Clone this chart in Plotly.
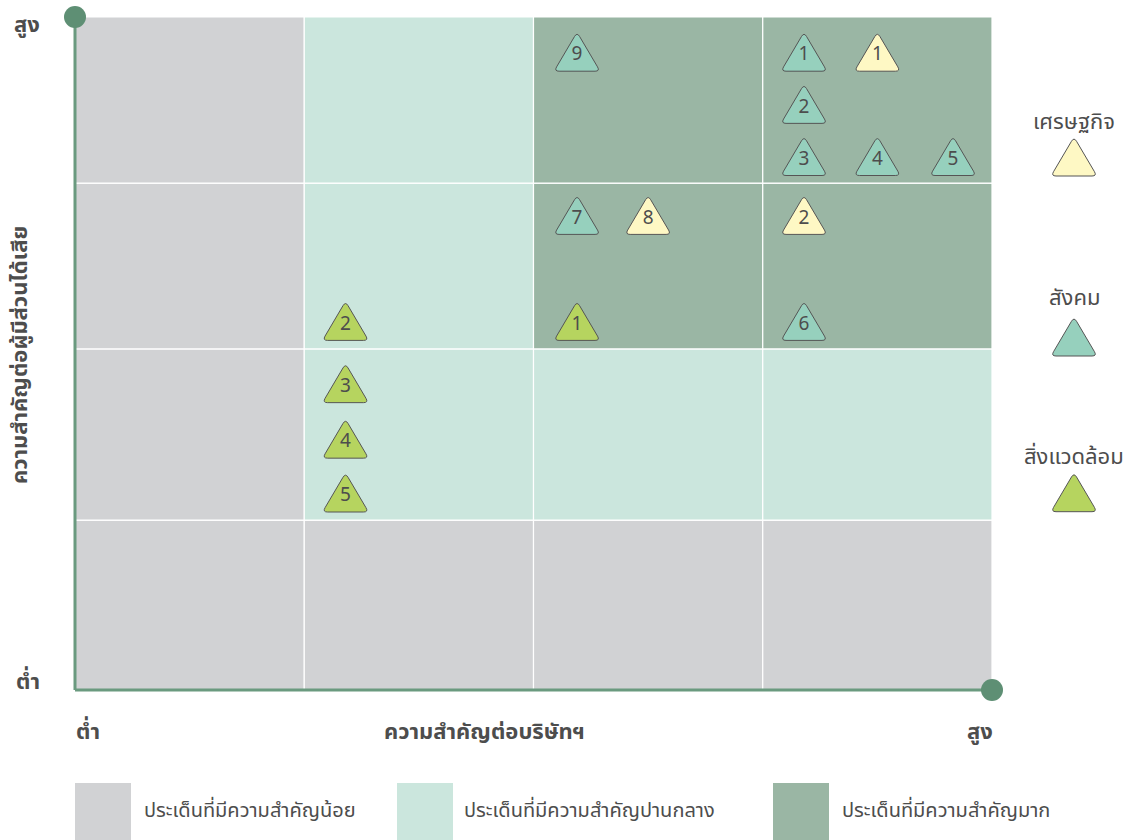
import math
import plotly.graph_objects as go

# ---------------- data ----------------
# importance to company (x) and to stakeholders (y), scale 0-4
econ_labels = ["1", "8", "2"]
econ_x = [3.50, 2.50, 3.18]
econ_y = [3.77, 2.80, 2.80]

social_labels = ["9", "1", "2", "3", "4", "5", "7", "6"]
social_x = [2.19, 3.18, 3.18, 3.18, 3.50, 3.83, 2.19, 3.18]
social_y = [3.77, 3.77, 3.46, 3.15, 3.15, 3.15, 2.80, 2.17]

env_labels = ["1", "2", "3", "4", "5"]
env_x = [2.19, 1.18, 1.18, 1.18, 1.18]
env_y = [2.17, 2.17, 1.80, 1.47, 1.15]

category_names = ["เศรษฐกิจ", "สังคม", "สิ่งแวดล้อม"]
zone_names = ["ประเด็นที่มีความสำคัญน้อย", "ประเด็นที่มีความสำคัญปานกลาง", "ประเด็นที่มีความสำคัญมาก"]
# zone of each cell: rows from bottom to top, columns left to right (0 low, 1 mid, 2 high)
zone_grid = [
    [0, 0, 0, 0],
    [0, 1, 1, 1],
    [0, 1, 2, 2],
    [0, 1, 2, 2],
]
axis_x_title = "ความสำคัญต่อบริษัทฯ"
axis_y_title = "ความสำคัญต่อผู้มีส่วนได้เสีย"
low_label = "ต่ำ"
high_label = "สูง"

# ---------------- style ----------------
W, H = 1130, 840
ML, MR, MT, MB = 75, 138, 17, 150
PW, PH = W - ML - MR, H - MT - MB
FONT = "Noto Sans Thai, Noto Sans, sans-serif"
TXT = "#4d4d4d"
zone_colors = ["#d1d2d4", "#cbe6dd", "#9ab6a4"]
cat_colors = ["#fef8c4", "#96d0bd", "#b6d45f"]
AXIS_COL = "#6a9a7f"
DOT_COL = "#5e8f74"
COL_EDGES = [0, 1, 2, 3, 4]
ROW_EDGES = [0, 1.01, 2.027, 3.013, 4]


def px2paper_x(px):
    return (px - ML) / PW


def px2paper_y(py):
    return (H - MB - py) / PH


def tri_path(w=46.0, top=23.5, bot=-15.5, r=5.0):
    verts = [(-w / 2, bot), (w / 2, bot), (0.0, top)]
    n = len(verts)
    parts = []
    for i in range(n):
        vx, vy = verts[i]
        px_, py_ = verts[i - 1]
        nx_, ny_ = verts[(i + 1) % n]
        d1 = math.hypot(px_ - vx, py_ - vy)
        d2 = math.hypot(nx_ - vx, ny_ - vy)
        a = (vx + (px_ - vx) * r / d1, vy + (py_ - vy) * r / d1)
        b = (vx + (nx_ - vx) * r / d2, vy + (ny_ - vy) * r / d2)
        cmd = "M" if i == 0 else "L"
        parts.append(f"{cmd}{a[0]:.2f},{a[1]:.2f} Q{vx:.2f},{vy:.2f} {b[0]:.2f},{b[1]:.2f}")
    return " ".join(parts) + " Z"


TRI = tri_path()

fig = go.Figure()
shapes = []

# grid cells
for ri in range(4):
    for ci in range(4):
        shapes.append(dict(
            type="rect", xref="x", yref="y",
            x0=COL_EDGES[ci], x1=COL_EDGES[ci + 1],
            y0=ROW_EDGES[ri], y1=ROW_EDGES[ri + 1],
            fillcolor=zone_colors[zone_grid[ri][ci]],
            line=dict(color="white", width=1.2), layer="below",
        ))

# triangles (below the number labels)
series = [
    (econ_labels, econ_x, econ_y, cat_colors[0]),
    (social_labels, social_x, social_y, cat_colors[1]),
    (env_labels, env_x, env_y, cat_colors[2]),
]
for labels, xs, ys, col in series:
    for x, y in zip(xs, ys):
        shapes.append(dict(type="path", xref="x", yref="y",
                           xsizemode="pixel", ysizemode="pixel",
                           xanchor=x, yanchor=y, path=TRI, layer="below",
                           fillcolor=col, line=dict(color="#555555", width=1)))
    fig.add_trace(go.Scatter(
        x=xs, y=ys, text=labels, mode="text",
        textfont=dict(family=FONT, size=19, color=TXT),
        textposition="middle center", cliponaxis=False,
        hoverinfo="skip", showlegend=False,
    ))

# axes lines and end dots (paper refs so they are not clipped)
shapes.append(dict(type="line", xref="paper", yref="paper", x0=0, x1=0, y0=0, y1=1,
                   line=dict(color=AXIS_COL, width=3)))
shapes.append(dict(type="line", xref="paper", yref="paper", x0=0, x1=1, y0=0, y1=0,
                   line=dict(color=AXIS_COL, width=3)))
for (ax, ay) in [(0, 1), (1, 0)]:
    shapes.append(dict(type="circle", xref="paper", yref="paper",
                       xsizemode="pixel", ysizemode="pixel",
                       xanchor=ax, yanchor=ay, x0=-11, x1=11, y0=-11, y1=11,
                       fillcolor=DOT_COL, line=dict(width=0)))

annotations = []

# right legend (categories)
leg_tri_y = [160.5, 340.5, 496.2]
leg_txt_y = [122, 298, 457]
for name, col, ty, ly in zip(category_names, cat_colors, leg_tri_y, leg_txt_y):
    shapes.append(dict(type="path", xref="paper", yref="paper",
                       xsizemode="pixel", ysizemode="pixel",
                       xanchor=px2paper_x(1074), yanchor=px2paper_y(ty), path=TRI,
                       fillcolor=col, line=dict(color="#555555", width=1)))
    annotations.append(dict(text=name, xref="paper", yref="paper",
                            x=px2paper_x(1074), y=px2paper_y(ly),
                            xanchor="center", yanchor="middle", showarrow=False,
                            font=dict(family=FONT, size=22, color=TXT)))

# bottom legend (zones)
sq_x = [75, 397, 773]
txt_x = [142, 462, 840]
for name, col, sx, tx in zip(zone_names, zone_colors, sq_x, txt_x):
    shapes.append(dict(type="rect", xref="paper", yref="paper",
                       x0=px2paper_x(sx), x1=px2paper_x(sx + 56),
                       y0=px2paper_y(840), y1=px2paper_y(783),
                       fillcolor=col, line=dict(width=0)))
    annotations.append(dict(text=name, xref="paper", yref="paper",
                            x=px2paper_x(tx), y=px2paper_y(811),
                            xanchor="left", yanchor="middle", showarrow=False,
                            font=dict(family=FONT, size=20, color=TXT)))

# axis labels
bold = dict(family=FONT, size=22, color=TXT)
annotations += [
    dict(text=f"<b>{low_label}</b>", xref="paper", yref="paper", x=px2paper_x(88), y=px2paper_y(732),
         xanchor="center", yanchor="middle", showarrow=False, font=bold),
    dict(text=f"<b>{axis_x_title}</b>", xref="paper", yref="paper", x=px2paper_x(484), y=px2paper_y(732),
         xanchor="center", yanchor="middle", showarrow=False, font=bold),
    dict(text=f"<b>{high_label}</b>", xref="paper", yref="paper", x=px2paper_x(980), y=px2paper_y(732),
         xanchor="center", yanchor="middle", showarrow=False, font=bold),
    dict(text=f"<b>{high_label}</b>", xref="paper", yref="paper", x=px2paper_x(27), y=px2paper_y(26),
         xanchor="center", yanchor="middle", showarrow=False, font=bold),
    dict(text=f"<b>{low_label}</b>", xref="paper", yref="paper", x=px2paper_x(28), y=px2paper_y(682),
         xanchor="center", yanchor="middle", showarrow=False, font=bold),
    dict(text=f"<b>{axis_y_title}</b>", xref="paper", yref="paper", x=px2paper_x(20), y=px2paper_y(355),
         xanchor="center", yanchor="middle", showarrow=False, font=bold, textangle=-90),
]

fig.update_layout(
    width=W, height=H,
    margin=dict(l=ML, r=MR, t=MT, b=MB, pad=0),
    paper_bgcolor="white", plot_bgcolor="white",
    xaxis=dict(range=[0, 4], showgrid=False, zeroline=False, showticklabels=False,
               showline=False, ticks="", fixedrange=True),
    yaxis=dict(range=[0, 4], showgrid=False, zeroline=False, showticklabels=False,
               showline=False, ticks="", fixedrange=True),
    shapes=shapes, annotations=annotations,
    font=dict(family=FONT, color=TXT),
    showlegend=False,
)

fig.write_html("out.html")
